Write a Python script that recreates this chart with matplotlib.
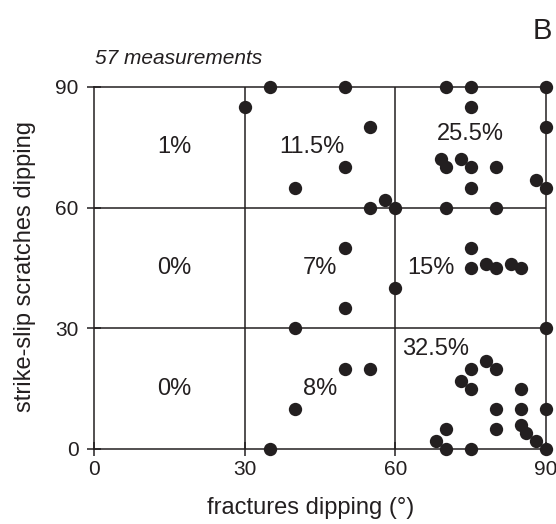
import matplotlib
matplotlib.use("Agg")
import matplotlib.pyplot as plt

plt.rcParams['font.family'] = ['Liberation Sans', 'DejaVu Sans']

# fracture dip (x) vs strike-slip scratch dip (y), 57 measurements
frac_dip = [35, 30, 40,
            50, 70, 75, 90, 75, 55, 90, 50, 69, 70, 73, 75, 80, 75, 88, 90,
            55, 58, 60, 70, 80, 50, 75,
            75, 78, 80, 83, 85, 50, 60, 90, 50, 55, 75, 78, 80, 73, 75, 85,
            80, 85, 90, 70, 80, 85, 86, 88, 90, 68, 70, 75,
            40, 40, 35]
scratch_dip = [90, 85, 65,
               90, 90, 90, 90, 85, 80, 80, 70, 72, 70, 72, 70, 70, 65, 67, 65,
               60, 62, 60, 60, 60, 50, 50,
               45, 46, 45, 46, 45, 35, 40, 30, 20, 20, 20, 22, 20, 17, 15, 15,
               10, 10, 10, 5, 5, 6, 4, 2, 0, 2, 0, 0,
               30, 10, 0]

pct_labels = ['1%', '11.5%', '25.5%', '0%', '7%', '15%', '0%', '8%', '32.5%']
pct_x = [16, 43.3, 75, 16, 45, 67, 16, 45, 68]
pct_y = [75, 75, 78.3, 45, 45, 45, 15, 15, 24.8]

ticks = [0, 30, 60, 90]
ink = '#231f20'

fig = plt.figure(figsize=(5.56, 5.24), dpi=100)
ax = fig.add_axes([94 / 556, 1 - 449 / 524, 452 / 556, 362 / 524])

ax.set_xlim(0, 90)
ax.set_ylim(0, 90)
ax.set_xticks(ticks)
ax.set_yticks(ticks)
for s in ax.spines.values():
    s.set_linewidth(1.1)
    s.set_color(ink)
for v in [30, 60]:
    ax.axvline(v, color=ink, lw=1.1, zorder=1)
    ax.axhline(v, color=ink, lw=1.1, zorder=1)

ax.tick_params(direction='inout', length=10, width=1.1, colors=ink,
               labelsize=15)
ax.tick_params(axis='y', pad=6)
ax.tick_params(axis='x', pad=3)

ax.scatter(frac_dip, scratch_dip, s=92, color=ink, zorder=3, clip_on=False,
           linewidths=0)

for lab, x, y in zip(pct_labels, pct_x, pct_y):
    ax.text(x, y, lab, fontsize=17, color=ink, ha='center', va='center')

fig.text(95 / 556, 1 - 59 / 524, '57 measurements', fontsize=15,
         style='italic', color=ink, ha='left', va='center')
fig.text(542 / 556, 1 - 31 / 524, 'B', fontsize=21, color=ink,
         ha='center', va='center')
fig.text(311 / 556, 1 - 508 / 524, 'fractures dipping (°)', fontsize=17,
         color=ink, ha='center', va='center')
fig.text(25 / 556, 1 - 266 / 524, 'strike-slip scratches dipping',
         fontsize=17, color=ink, rotation=90, ha='center', va='center')

fig.savefig('out.png', dpi=100)
